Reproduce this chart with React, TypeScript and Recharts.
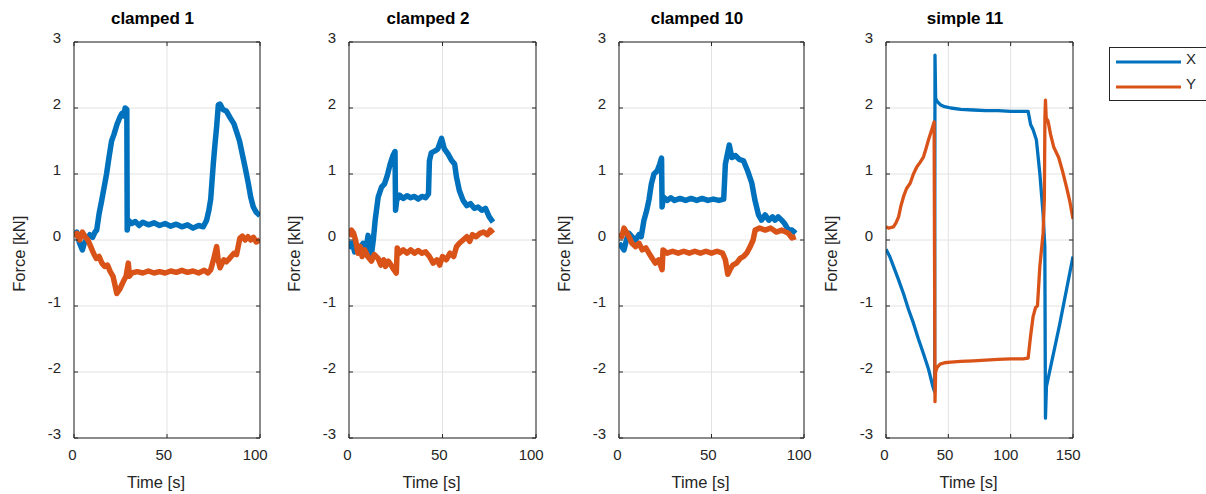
import React from "react";
import { CartesianGrid, Legend, Line, LineChart, XAxis, YAxis } from "recharts";

const FONT = '"Liberation Sans", Arial, Helvetica, sans-serif';
const BLUE = "#0072BD";
const ORANGE = "#D95319";
const AXIS = "#262626";
const GRID = "#e2e2e2";

const forceTicks = [-3, -2, -1, 0, 1, 2, 3];
const timeTicks100 = [0, 50, 100];
const timeTicks150 = [0, 50, 100, 150];
const seriesNames = ["X", "Y"];

// [time s, force kN]
const clamped1X: [number, number][] = [
  [0, 0.08], [1.5, 0.12], [3, -0.05], [4.5, -0.15], [5.5, -0.05], [7, 0.02], [8.5, 0.08], [10, 0.04],
  [11.3, 0.12], [12.2, 0.15], [13.5, 0.4], [14.9, 0.6], [16.2, 0.8], [17.5, 1.0], [18.8, 1.25], [20.2, 1.5],
  [21.5, 1.6], [23.1, 1.75], [24.5, 1.85], [25.8, 1.92], [26.8, 1.88], [27.5, 2.0], [28.4, 1.98], [28.6, 0.15],
  [29.2, 0.3], [31, 0.25], [33, 0.28], [35, 0.22], [37, 0.27], [40, 0.23], [43, 0.26], [46, 0.22], [49, 0.25],
  [52, 0.21], [55, 0.24], [58, 0.2], [61, 0.23], [64, 0.18], [67, 0.22], [69.5, 0.2], [71.3, 0.3], [72.5, 0.45],
  [73.5, 0.62], [74.9, 1.16], [75.8, 1.45], [76.7, 1.72], [77.6, 2.05], [78.5, 2.06], [80, 1.98], [82, 1.95],
  [84, 1.85], [86, 1.76], [87.4, 1.64], [89, 1.5], [90.5, 1.3], [92, 1.1], [93.7, 0.86], [95, 0.65], [96.4, 0.5],
  [98, 0.42], [100, 0.37],
];
const clamped1Y: [number, number][] = [
  [0, 0.05], [1.5, 0.1], [3, 0.0], [4.5, 0.12], [6, 0.05], [7.5, 0.0], [9, -0.1], [10.5, -0.2], [12, -0.28],
  [13.5, -0.25], [15, -0.35], [16.5, -0.4], [18, -0.38], [19.5, -0.48], [21, -0.55], [22, -0.68], [23, -0.81],
  [24.5, -0.75], [26.5, -0.63], [28, -0.55], [29.2, -0.35], [29.8, -0.55], [31, -0.5], [34, -0.48], [37, -0.5],
  [40, -0.47], [43, -0.5], [46, -0.48], [49, -0.5], [52, -0.47], [55, -0.49], [58, -0.46], [61, -0.49], [64, -0.47],
  [67, -0.5], [70, -0.46], [72, -0.5], [73.5, -0.45], [75, -0.3], [76.7, -0.1], [77.5, -0.3], [78.5, -0.42],
  [80.5, -0.3], [82, -0.33], [83.9, -0.27], [86, -0.2], [87.4, -0.22], [89.2, 0.03], [90.5, 0.06], [92, 0.0],
  [93.5, 0.05], [95, 0.0], [96.5, 0.04], [98, -0.03], [100, 0.0],
];

const clamped2X: [number, number][] = [
  [0, -0.02], [1, -0.1], [2, -0.05], [3, -0.18], [4.5, -0.08], [6, -0.15], [7.5, -0.05], [9, -0.15],
  [10.2, 0.07], [11, -0.1], [12, -0.22], [13, 0.0], [14, 0.3], [15.6, 0.65], [17.4, 0.8], [19, 0.85],
  [20.5, 0.98], [22, 1.15], [23.5, 1.28], [24.6, 1.34], [24.9, 0.45], [25.5, 0.6], [27, 0.68], [29, 0.63],
  [31, 0.67], [33, 0.64], [35, 0.66], [37, 0.62], [39, 0.66], [41, 0.64], [42.5, 0.7], [43, 1.2], [44, 1.32],
  [46, 1.35], [47.5, 1.38], [49.5, 1.54], [51, 1.38], [53, 1.3], [55, 1.2], [56.5, 1.15], [57.5, 0.95],
  [59, 0.75], [61, 0.6], [63, 0.52], [65, 0.55], [67, 0.48], [69, 0.5], [71, 0.45], [73, 0.48], [75, 0.35],
  [77, 0.27],
];
const clamped2Y: [number, number][] = [
  [0, 0.05], [1.3, 0.15], [2.5, 0.1], [3.5, 0.0], [4.8, -0.2], [6, -0.1], [7, -0.25], [8.4, -0.15], [10, -0.25],
  [12, -0.32], [13.5, -0.22], [15.6, -0.28], [17, -0.38], [18.5, -0.3], [19.5, -0.4], [21, -0.32], [22.5, -0.38],
  [24, -0.45], [25.3, -0.5], [25.8, -0.12], [27, -0.2], [29, -0.15], [31, -0.2], [33, -0.15], [35, -0.2],
  [37, -0.16], [39, -0.2], [41, -0.18], [43, -0.25], [45, -0.35], [47, -0.3], [48.5, -0.38], [50, -0.25],
  [52, -0.3], [54, -0.2], [56, -0.25], [57.5, -0.1], [59, -0.05], [61, 0.0], [63, 0.05], [64.5, -0.02],
  [66, 0.08], [68, 0.05], [70, 0.1], [72, 0.12], [74, 0.08], [75.5, 0.15], [77, 0.1],
];

const clamped10X: [number, number][] = [
  [0, -0.05], [1.5, -0.1], [2.7, -0.15], [4, 0.0], [5.4, 0.1], [7, 0.05], [9, 0.0], [10.8, 0.08], [12, 0.05],
  [13.5, 0.3], [15, 0.45], [16.2, 0.61], [17.5, 0.85], [18.9, 1.0], [20.7, 1.05], [22, 1.15], [23, 1.24],
  [23.3, 0.5], [24, 0.65], [26, 0.6], [28, 0.64], [30, 0.6], [33, 0.63], [36, 0.6], [39, 0.63], [42, 0.6],
  [45, 0.63], [48, 0.6], [51, 0.62], [54, 0.6], [56.6, 0.62], [57.5, 1.15], [59.6, 1.44], [61, 1.25], [63, 1.28],
  [65, 1.22], [67.3, 1.2], [69.5, 1.05], [71.8, 0.86], [73.5, 0.6], [75.4, 0.38], [77, 0.3], [79, 0.38],
  [81, 0.3], [83, 0.35], [84.4, 0.3], [86, 0.35], [88, 0.3], [89.5, 0.25], [91.6, 0.15], [93.5, 0.15],
  [95.5, 0.1],
];
const clamped10Y: [number, number][] = [
  [0, 0.1], [1.5, 0.05], [2.7, 0.18], [4, 0.12], [5.4, 0.05], [7, -0.05], [9, -0.1], [10.8, -0.05],
  [12.6, -0.15], [14.5, -0.12], [16.2, -0.2], [18, -0.28], [19.7, -0.35], [21.5, -0.3], [23.3, -0.45],
  [23.8, -0.15], [26, -0.2], [29, -0.17], [32, -0.2], [35, -0.17], [38, -0.2], [41, -0.17], [44, -0.2],
  [47, -0.17], [50, -0.2], [53, -0.17], [56, -0.2], [57.5, -0.3], [58.8, -0.52], [60, -0.45], [61.5, -0.38],
  [63.5, -0.35], [65.5, -0.28], [67.3, -0.25], [69, -0.2], [70.9, -0.1], [72.5, 0.0], [73.6, 0.15], [76, 0.18],
  [79, 0.15], [82, 0.18], [85, 0.12], [88, 0.15], [91.6, 0.1], [93.5, 0.03], [95.5, 0.05],
];

const simple11X: [number, number][] = [
  [0, -0.14], [3, -0.25], [6, -0.4], [10, -0.6], [14, -0.81], [18, -1.05], [22, -1.26], [26, -1.5], [30, -1.72],
  [34, -1.95], [37.6, -2.22], [39, -2.3], [39.3, 2.8], [39.8, 2.15], [41, 2.1], [43.5, 2.05], [47, 2.02],
  [52, 2.0], [60, 1.98], [70, 1.97], [80, 1.96], [90, 1.96], [100, 1.95], [110, 1.95], [114, 1.95], [116, 1.75],
  [118, 1.67], [120.6, 1.52], [123.4, 1.01], [126, 0.4], [127.4, -0.1], [127.9, -2.7], [128.7, -2.22],
  [139.4, -1.27], [150, -0.25],
];
const simple11Y: [number, number][] = [
  [0, 0.2], [2, 0.18], [6, 0.2], [8, 0.26], [10.1, 0.35], [12, 0.52], [14.1, 0.66], [16.5, 0.78], [19.4, 0.86],
  [22, 1.0], [24.8, 1.11], [27.5, 1.18], [30.1, 1.26], [32, 1.38], [34.1, 1.52], [36.5, 1.66], [38.6, 1.79],
  [39.3, -2.45], [39.8, -2.0], [41, -1.93], [43.4, -1.88], [47, -1.86], [52, -1.85], [60, -1.84], [70, -1.83],
  [80, -1.82], [90, -1.81], [100, -1.8], [110, -1.8], [114, -1.79], [116, -1.45], [118, -1.16], [120, -1.02],
  [121.5, -1.0], [123.4, -0.4], [126, 0.1], [127, 0.6], [127.5, 1.87], [127.9, 2.12], [128.5, 1.85],
  [130, 1.8], [132, 1.6], [134.5, 1.41], [138.5, 1.25], [141.5, 1.05], [144.7, 0.81], [147.5, 0.58],
  [150, 0.32],
];

type Row = [number, number];
interface Panel {
  title: string;
  boxLeft: number;
  boxRight: number;
  xMax: number;
  xTicks: number[];
  x: Row[];
  y: Row[];
  lineWidth: number;
  legend?: boolean;
}

const panels: Panel[] = [
  { title: "clamped 1", boxLeft: 74, boxRight: 260, xMax: 100, xTicks: timeTicks100, x: clamped1X, y: clamped1Y, lineWidth: 5.5 },
  { title: "clamped 2", boxLeft: 349, boxRight: 536, xMax: 100, xTicks: timeTicks100, x: clamped2X, y: clamped2Y, lineWidth: 5.5 },
  { title: "clamped 10", boxLeft: 619, boxRight: 804, xMax: 100, xTicks: timeTicks100, x: clamped10X, y: clamped10Y, lineWidth: 5.5 },
  { title: "simple 11", boxLeft: 886, boxRight: 1073, xMax: 150, xTicks: timeTicks150, x: simple11X, y: simple11Y, lineWidth: 3.3, legend: true },
];

const toPoints = (rows: Row[]) => rows.map(([t, f]) => ({ t, f }));

const PAD_L = 74;
const PAD_R = 20;
const HEIGHT = 494;

const noTick = () => <g />;

const xTick = (props: any) => {
  const label = String(props.payload.value);
  return (
    <text x={props.x - label.length * 1.6} y={props.y} textAnchor="middle" dominantBaseline="central"
      fontSize={15} fill={AXIS} fontFamily={FONT}>
      {label}
    </text>
  );
};

const yTick = (props: any) => (
  <text x={props.x} y={props.y - 5} textAnchor="end" dominantBaseline="central"
    fontSize={15} fill={AXIS} fontFamily={FONT}>
    {String(props.payload.value)}
  </text>
);

const renderLegend = (props: any) => {
  const items = props.payload ?? [];
  return (
    <div style={{ width: 110, height: 54, border: `1px solid ${AXIS}`, background: "#fff", boxSizing: "border-box" }}>
      <svg width={110} height={54}>
        {items.map((it: any, i: number) => (
          <g key={it.value}>
            <line x1={6} x2={71} y1={14 + i * 25} y2={14 + i * 25} stroke={it.color} strokeWidth={3} />
            <text x={76} y={10 + i * 25} dominantBaseline="central" fontSize={15} fill={AXIS} fontFamily={FONT}>
              {it.value}
            </text>
          </g>
        ))}
      </svg>
    </div>
  );
};

function ForcePanel({ p }: { p: Panel }) {
  const left = p.boxLeft - PAD_L;
  const extra = p.legend ? 1206 - left - (p.boxRight - p.boxLeft + PAD_L + PAD_R) : 0;
  const width = p.boxRight - p.boxLeft + PAD_L + PAD_R + extra;
  const axisCommon = {
    type: "number" as const,
    stroke: AXIS,
    tickSize: -4,
    allowDataOverflow: true,
  };
  return (
    <div style={{ position: "absolute", left, top: 0 }}>
      <LineChart width={width} height={HEIGHT} margin={{ top: 41, right: PAD_R - 1 + extra, bottom: 6, left: 24 }}>
        <CartesianGrid stroke={GRID} />
        <XAxis
          {...axisCommon}
          dataKey="t"
          domain={[0, p.xMax]}
          ticks={p.xTicks}
          height={50}
          tickMargin={20}
          tick={xTick}
          label={(lp: any) => {
            const vb = lp.viewBox;
            return (
              <text x={vb.x + vb.width / 2 - 11} y={488} textAnchor="middle" fontSize={16.5} fill={AXIS} fontFamily={FONT}>
                Time [s]
              </text>
            );
          }}
        />
        <XAxis
          {...axisCommon}
          xAxisId="top"
          orientation="top"
          dataKey="t"
          domain={[0, p.xMax]}
          ticks={p.xTicks}
          height={1}
          tick={noTick}
          label={(lp: any) => {
            const vb = lp.viewBox;
            return (
              <text x={vb.x + vb.width / 2 - 14.5} y={24} textAnchor="middle" fontSize={17} fontWeight="bold" fill="#000" fontFamily={FONT}>
                {p.title}
              </text>
            );
          }}
        />
        <YAxis
          {...axisCommon}
          domain={[-3, 3]}
          ticks={forceTicks}
          width={50}
          tickMargin={17}
          tick={yTick}
          label={() => (
            <text x={19.3} y={253.7} transform="rotate(-90 19.3 253.7)" textAnchor="middle" dominantBaseline="central"
              fontSize={16.5} fill={AXIS} fontFamily={FONT}>
              Force [kN]
            </text>
          )}
        />
        <YAxis
          {...axisCommon}
          yAxisId="right"
          orientation="right"
          domain={[-3, 3]}
          ticks={forceTicks}
          width={1}
          tick={noTick}
        />
        <Line data={toPoints(p.x)} dataKey="f" name={seriesNames[0]} type="linear" stroke={BLUE}
          strokeWidth={p.lineWidth} strokeLinejoin="round" dot={false} activeDot={false} isAnimationActive={false} />
        <Line data={toPoints(p.y)} dataKey="f" name={seriesNames[1]} type="linear" stroke={ORANGE}
          strokeWidth={p.lineWidth} strokeLinejoin="round" dot={false} activeDot={false} isAnimationActive={false} />
        {p.legend && (
          <Legend
            layout="horizontal"
            verticalAlign="middle"
            align="center"
            content={renderLegend}
            wrapperStyle={{ left: 1109 - left, top: 47, width: 110, height: 54 }}
          />
        )}
      </LineChart>
    </div>
  );
}

export default function App() {
  return (
    <div style={{ position: "absolute", left: 0, top: 0, width: 1206, height: HEIGHT, overflow: "hidden", background: "#fff" }}>
      {panels.map((p) => (
        <ForcePanel key={p.title} p={p} />
      ))}
    </div>
  );
}
